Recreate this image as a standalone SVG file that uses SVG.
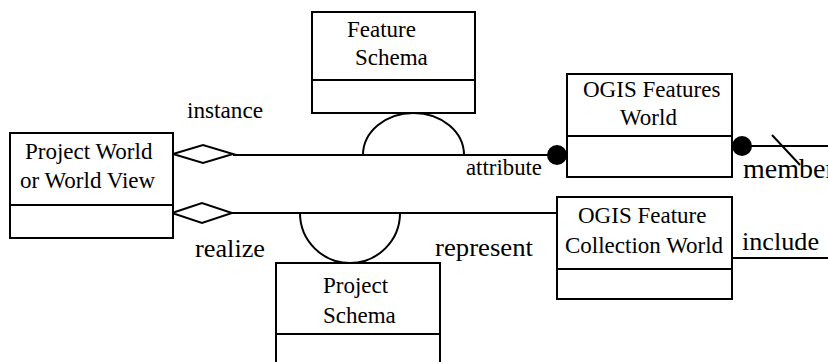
<svg xmlns="http://www.w3.org/2000/svg" width="828" height="362" viewBox="0 0 828 362">
<style>
.box{fill:#fff;stroke:#000;stroke-width:2}
.ln{fill:none;stroke:#000;stroke-width:2}
.t{font-family:"Liberation Serif",serif;font-size:23px;fill:#000}
.l{font-family:"Liberation Serif",serif;font-size:23px;fill:#000}
.lb{font-family:"Liberation Serif",serif;font-size:26px;fill:#000}
</style>
<rect width="828" height="362" fill="#fff"/>
<g id="connectors">
<line class="ln" x1="233" y1="155" x2="557" y2="155"/>
<path class="ln" d="M363,155 A50.5,42 0 0 1 464,155"/>
<line class="ln" x1="232" y1="213" x2="557" y2="213"/>
<path class="ln" d="M300,213 A50,50 0 0 0 400,213"/>
<line class="ln" x1="742" y1="146" x2="828" y2="146"/>
<line class="ln" x1="772" y1="135" x2="800" y2="165"/>
<line class="ln" x1="732" y1="258" x2="828" y2="258"/>
<polygon class="box" points="173,154 203,145 233,154 203,163"/>
<polygon class="box" points="172,213 202,203 232,213 202,223"/>
<circle cx="557" cy="155" r="10" fill="#000"/>
<circle cx="742" cy="146" r="10" fill="#000"/>
<text class="l" x="187" y="118" style="font-size:24px" textLength="76" lengthAdjust="spacingAndGlyphs">instance</text>
<text class="l" x="466" y="175" textLength="76" lengthAdjust="spacingAndGlyphs">attribute</text>
<text class="lb" x="743" y="178" style="font-size:28px">member</text>
<text class="lb" x="195" y="257" textLength="70" lengthAdjust="spacingAndGlyphs">realize</text>
<text class="lb" x="435" y="256" textLength="98" lengthAdjust="spacingAndGlyphs">represent</text>
<text class="lb" x="742" y="250" textLength="77" lengthAdjust="spacingAndGlyphs">include</text>
</g>
<g id="feature-schema">
<rect class="box" x="312" y="12" width="163" height="101"/>
<line class="ln" x1="312" y1="80" x2="475" y2="80"/>
<text class="t" x="347" y="37">Feature</text>
<text class="t" x="355" y="65">Schema</text>
</g>
<g id="ogis-features-world">
<rect class="box" x="567" y="74" width="165" height="103"/>
<line class="ln" x1="567" y1="136" x2="732" y2="136"/>
<text class="t" x="583" y="97">OGIS Features</text>
<text class="t" x="620" y="125">World</text>
</g>
<g id="project-world">
<rect class="box" x="10" y="133" width="163" height="105"/>
<line class="ln" x1="10" y1="205" x2="173" y2="205"/>
<text class="t" x="25" y="159">Project World</text>
<text class="t" x="20" y="188">or World View</text>
</g>
<g id="ogis-feature-collection-world">
<rect class="box" x="557" y="197" width="175" height="102"/>
<line class="ln" x1="557" y1="269" x2="732" y2="269"/>
<text class="t" x="578" y="223">OGIS Feature</text>
<text class="t" x="565" y="253">Collection World</text>
</g>
<g id="project-schema">
<rect class="box" x="276" y="263" width="164" height="110"/>
<line class="ln" x1="276" y1="334" x2="440" y2="334"/>
<text class="t" x="323" y="293">Project</text>
<text class="t" x="323" y="323">Schema</text>
</g>
</svg>
